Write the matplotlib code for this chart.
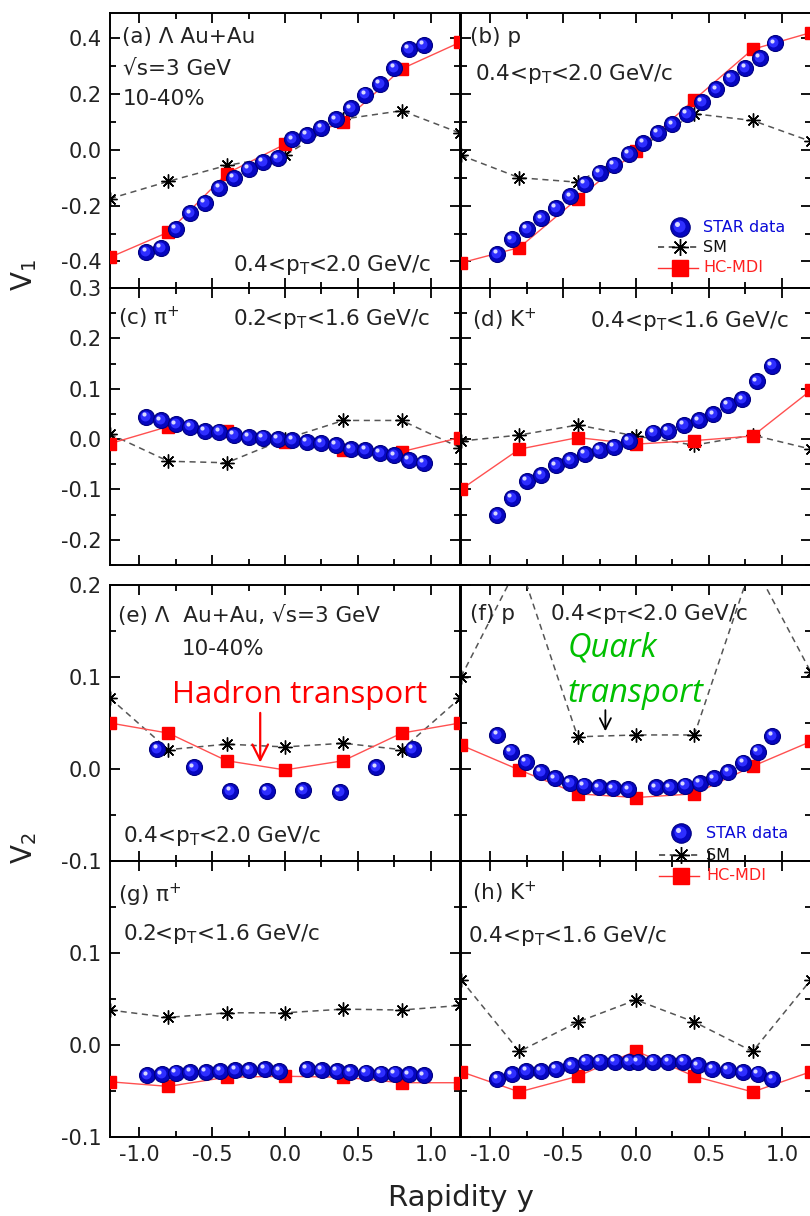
import matplotlib
matplotlib.use('Agg')
import matplotlib.pyplot as plt
from matplotlib.lines import Line2D
from matplotlib.transforms import offset_copy
from matplotlib.ticker import MultipleLocator, FixedLocator, FuncFormatter

plt.rcParams['font.family'] = ['DejaVu Sans']
plt.rcParams['axes.unicode_minus'] = False
plt.rcParams['mathtext.fontset'] = 'dejavusans'

# ---------------- data ----------------
model_x = [-1.2, -0.8, -0.4, 0.0, 0.4, 0.8, 1.2]
grid20 = [-0.95, -0.85, -0.75, -0.65, -0.55, -0.45, -0.35, -0.25, -0.15, -0.05,
          0.05, 0.15, 0.25, 0.35, 0.45, 0.55, 0.65, 0.75, 0.85, 0.95]

# (a) Lambda v1
a_star_x = grid20
a_star_v = [-0.366, -0.352, -0.283, -0.227, -0.19, -0.137, -0.101, -0.068, -0.044, -0.03,
            0.037, 0.054, 0.078, 0.109, 0.149, 0.198, 0.237, 0.293, 0.362, 0.376]
a_hc = [-0.385, -0.295, -0.085, 0.02, 0.10, 0.29, 0.385]
a_sm = [-0.175, -0.113, -0.056, -0.02, 0.11, 0.14, 0.06]

# (b) proton v1
b_star_x = grid20
b_star_v = [-0.373, -0.321, -0.283, -0.245, -0.208, -0.166, -0.122, -0.082, -0.054, -0.014,
            0.024, 0.06, 0.091, 0.129, 0.171, 0.216, 0.257, 0.294, 0.329, 0.382]
b_hc = [-0.405, -0.35, -0.175, -0.005, 0.18, 0.36, 0.42]
b_sm = [-0.02, -0.10, -0.116, 0.0, 0.129, 0.105, 0.03]

# (c) pi+ v1
c_star_x = grid20
c_star_v = [0.044, 0.037, 0.029, 0.025, 0.016, 0.015, 0.008, 0.004, 0.003, 0.0,
            -0.002, -0.006, -0.007, -0.011, -0.019, -0.021, -0.027, -0.032, -0.041, -0.047]
c_hc = [-0.009, 0.025, 0.016, -0.005, -0.021, -0.025, 0.003]
c_sm = [0.01, -0.044, -0.047, 0.0, 0.037, 0.037, -0.017]

# (d) K+ v1
d_star_x = [-0.95, -0.85, -0.75, -0.65, -0.55, -0.45, -0.35, -0.25, -0.15, -0.05,
            0.12, 0.22, 0.33, 0.43, 0.53, 0.63, 0.73, 0.83, 0.93]
d_star_v = [-0.151, -0.117, -0.083, -0.071, -0.052, -0.042, -0.029, -0.021, -0.015, -0.004,
            0.013, 0.016, 0.028, 0.037, 0.049, 0.068, 0.079, 0.115, 0.146]
d_hc = [-0.1, -0.02, 0.003, -0.01, -0.003, 0.006, 0.097]
d_sm = [-0.004, 0.008, 0.028, 0.006, -0.012, 0.008, -0.02]

# (e) Lambda v2
e_star_x = [-0.875, -0.625, -0.375, -0.125, 0.125, 0.375, 0.625, 0.875]
e_star_v = [0.022, 0.002, -0.024, -0.024, -0.023, -0.025, 0.002, 0.022]
e_hc = [0.05, 0.039, 0.009, -0.001, 0.009, 0.039, 0.05]
e_sm = [0.077, 0.021, 0.027, 0.024, 0.028, 0.021, 0.077]

# (f) proton v2
f_star_x = [-0.95, -0.858, -0.755, -0.652, -0.555, -0.452, -0.356, -0.253, -0.158, -0.053,
            0.135, 0.231, 0.336, 0.436, 0.534, 0.632, 0.735, 0.836, 0.934]
f_star_v = [0.037, 0.019, 0.008, -0.003, -0.010, -0.015, -0.018, -0.020, -0.021, -0.022,
            -0.020, -0.020, -0.018, -0.015, -0.010, -0.003, 0.007, 0.019, 0.036]
f_hc = [0.026, -0.001, -0.027, -0.031, -0.027, 0.003, 0.03]
f_sm = [0.1, 0.224, 0.035, 0.037, 0.037, 0.225, 0.105]

# (g) pi+ v2
g_star_x = [-0.945, -0.845, -0.747, -0.649, -0.541, -0.443, -0.34, -0.244, -0.137, -0.039,
            0.151, 0.251, 0.356, 0.447, 0.555, 0.658, 0.753, 0.851, 0.954]
g_star_v = [-0.033, -0.032, -0.030, -0.029, -0.029, -0.028, -0.027, -0.027, -0.026, -0.028,
            -0.026, -0.027, -0.028, -0.029, -0.030, -0.031, -0.031, -0.032, -0.033]
g_hc = [-0.040, -0.045, -0.035, -0.034, -0.035, -0.041, -0.041]
g_sm = [0.038, 0.030, 0.035, 0.035, 0.039, 0.038, 0.043]

# (h) K+ v2
h_star_x = [-0.95, -0.851, -0.751, -0.652, -0.55, -0.443, -0.345, -0.247, -0.145, -0.048,
            0.014, 0.119, 0.221, 0.324, 0.425, 0.523, 0.63, 0.733, 0.836, 0.934]
h_star_v = [-0.037, -0.032, -0.028, -0.028, -0.026, -0.022, -0.018, -0.018, -0.018, -0.018,
            -0.018, -0.018, -0.018, -0.018, -0.022, -0.026, -0.027, -0.029, -0.031, -0.037]
h_hc = [-0.029, -0.051, -0.034, -0.0065, -0.034, -0.051, -0.029]
h_sm = [0.071, -0.007, 0.025, 0.049, 0.025, -0.007, 0.071]

x_ticks = [-1.0, -0.5, 0.0, 0.5, 1.0]
legend_labels = ['STAR data', 'SM', 'HC-MDI']

# ---------------- layout ----------------
W, H = 810, 1216
fig = plt.figure(figsize=(W / 100, H / 100), dpi=100)

rows = [(13, 288), (288, 565), (585, 861), (861, 1137)]
cols = [(110, 460), (461, 811)]
ylims = [(-0.495, 0.49), (-0.25, 0.3), (-0.1, 0.2), (-0.1, 0.2)]

TXT = '#222222'
BLUE = '#0a0ad8'


def fx(px):
    return px / W


def fy(py):
    return 1 - py / H


def spheres(ax, x, y, ms=11.5):
    base = ax.transData
    ax.plot(x, y, 'o', ms=ms, mfc='#0606c0', mec='#000080', mew=0.8,
            ls='none', zorder=5)
    t1 = offset_copy(base, fig=fig, x=-0.8, y=0.8, units='points')
    ax.plot(x, y, 'o', ms=ms * 0.62, mfc='#2e2eff', mec='none', ls='none',
            zorder=6, transform=t1)
    t2 = offset_copy(base, fig=fig, x=-1.9, y=1.9, units='points')
    ax.plot(x, y, 'o', ms=ms * 0.26, mfc='#d8d8ff', mec='none', ls='none',
            zorder=7, transform=t2)


SM_MARKER = (8, 2, 0)


def draw_panel(ax, sx, sv, hc, sm):
    ax.plot(model_x, sm, color='#555555', lw=1.1, ls=(0, (4, 3)), zorder=2)
    ax.plot(model_x, sm, ls='none', marker=SM_MARKER, ms=10, mec='black', mew=1.0, zorder=3)
    ax.plot(model_x, hc, color='#ff5050', lw=1.0, zorder=3)
    ax.plot(model_x, hc, ls='none', marker='s', ms=9, mfc='#ff0000', mec='#ff0000', zorder=4)
    spheres(ax, sx, sv)


panels = [
    (a_star_x, a_star_v, a_hc, a_sm), (b_star_x, b_star_v, b_hc, b_sm),
    (c_star_x, c_star_v, c_hc, c_sm), (d_star_x, d_star_v, d_hc, d_sm),
    (e_star_x, e_star_v, e_hc, e_sm), (f_star_x, f_star_v, f_hc, f_sm),
    (g_star_x, g_star_v, g_hc, g_sm), (h_star_x, h_star_v, h_hc, h_sm),
]

axes = []
for r, (top, bot) in enumerate(rows):
    for c, (left, right) in enumerate(cols):
        ax = fig.add_axes([fx(left), fy(bot), (right - left) / W, (bot - top) / H])
        ax.set_xlim(-1.2, 1.2)
        ax.set_ylim(*ylims[r])
        ax.xaxis.set_major_locator(FixedLocator(x_ticks))
        ax.xaxis.set_minor_locator(MultipleLocator(0.25))
        if r == 0:
            ax.yaxis.set_major_locator(FixedLocator([-0.4, -0.2, 0.0, 0.2, 0.4]))
            ax.yaxis.set_minor_locator(MultipleLocator(0.1))
        else:
            ax.yaxis.set_major_locator(MultipleLocator(0.1))
            ax.yaxis.set_minor_locator(MultipleLocator(0.05))
        if r == 3:
            ax.yaxis.set_major_formatter(FuncFormatter(lambda v, p: '' if v > 0.15 else f'{v:.1f}'))
        else:
            ax.yaxis.set_major_formatter(FuncFormatter(lambda v, p: f'{v:.1f}'))
        ax.xaxis.set_major_formatter(FuncFormatter(lambda v, p: f'{v:.1f}'))
        ax.tick_params(which='both', direction='in', top=True, right=True,
                       labelsize=15, labelcolor=TXT, width=1.3)
        ax.tick_params(which='major', length=7, pad=6)
        ax.tick_params(which='minor', length=4)
        ax.tick_params(labelbottom=(r == 3), labelleft=(c == 0))
        for s in ax.spines.values():
            s.set_linewidth(1.4)
        draw_panel(ax, *panels[r * 2 + c])
        axes.append(ax)

# ---------------- texts ----------------
FS = 15.5


def t(px, py, s, **kw):
    kw.setdefault('fontsize', FS)
    kw.setdefault('color', TXT)
    fig.text(fx(px), fy(py), s, ha='left', va='baseline', **kw)


pt20 = r'0.4<p$_{\mathrm{T}}$<2.0 GeV/c'
pt16k = r'0.4<p$_{\mathrm{T}}$<1.6 GeV/c'
pt16p = r'0.2<p$_{\mathrm{T}}$<1.6 GeV/c'

t(122, 43, '(a) Λ Au+Au')
t(123, 75, '√s=3 GeV')
t(123, 105, '10-40%')
t(233, 271, pt20)
t(470, 43, '(b) p')
t(475, 80, pt20)
t(118, 325, r'(c) π$^{+}$')
t(233, 325, pt16p)
t(472, 327, r'(d) K$^{+}$')
t(590, 327, pt16k)
t(118, 622, '(e) Λ  Au+Au, √s=3 GeV')
t(182, 655, '10-40%')
t(123, 842, pt20)
t(470, 620, '(f) p')
t(550, 620, pt20)
t(118, 902, r'(g) π$^{+}$')
t(123, 940, pt16p)
t(472, 900, r'(h) K$^{+}$')
t(468, 942, pt16k)

# axis labels
fig.text(fx(24), fy(275), r'V$_{1}$', rotation=90, fontsize=20, color=TXT, ha='center', va='center')
fig.text(fx(24), fy(848), r'V$_{2}$', rotation=90, fontsize=20, color=TXT, ha='center', va='center')
fig.text(fx(461), fy(1198), 'Rapidity y', fontsize=21, color=TXT, ha='center', va='center')

# annotations
ANN = ['Open Sans', 'DejaVu Sans']
fig.text(fx(172), fy(703), 'Hadron transport', fontsize=22.5, color='#ff0000',
         family=ANN, ha='left', va='baseline')
axes[4].annotate('', xy=(-0.17, 0.004), xytext=(-0.17, 0.064),
                 arrowprops=dict(arrowstyle='->', color='#ff0000', lw=1.6, mutation_scale=28))
fig.text(fx(568), fy(657), 'Quark', fontsize=23.5, color='#00c000', style='italic',
         family=ANN, ha='left', va='baseline')
fig.text(fx(568), fy(702), 'transport', fontsize=23.5, color='#00c000', style='italic',
         family=ANN, ha='left', va='baseline')
axes[5].annotate('', xy=(-0.21, 0.038), xytext=(-0.21, 0.067),
                 arrowprops=dict(arrowstyle='->', color='black', lw=1.3, mutation_scale=20))


# ---------------- legends ----------------
def legend(xm, ys, xt):
    ft = fig.transFigure
    colors = [BLUE, '#111111', '#ff2020']
    for ms, col, dx in [(14, '#0606c0', 0), (8.7, '#2e2eff', -0.8), (3.6, '#d8d8ff', -1.9)]:
        tr = offset_copy(ft, fig=fig, x=dx, y=-dx, units='points')
        fig.add_artist(Line2D([fx(xm)], [fy(ys[0])], marker='o', ms=ms, mfc=col,
                              mec='#000080' if ms == 14 else 'none', mew=0.8,
                              transform=tr, zorder=20))
    fig.add_artist(Line2D([fx(xm - 22), fx(xm + 18)], [fy(ys[1])] * 2, color='#333333',
                          lw=1.1, ls=(0, (4, 3)), transform=ft, zorder=20))
    fig.add_artist(Line2D([fx(xm)], [fy(ys[1])], marker=SM_MARKER, ms=12, mec='black',
                          mew=1.0, transform=ft, zorder=21))
    fig.add_artist(Line2D([fx(xm - 22), fx(xm + 18)], [fy(ys[2])] * 2, color='#ff3030',
                          lw=1.0, transform=ft, zorder=20))
    fig.add_artist(Line2D([fx(xm)], [fy(ys[2])], marker='s', ms=11, mfc='#ff0000',
                          mec='#ff0000', transform=ft, zorder=21))
    for y, lab, col in zip(ys, legend_labels, colors):
        fig.text(fx(xt), fy(y), lab, fontsize=11.5, color=col, ha='left', va='center',
                 zorder=22)


legend(680, [227, 247, 268], 703)
legend(681, [833, 855, 876], 706)

fig.savefig('out.png', dpi=100)
